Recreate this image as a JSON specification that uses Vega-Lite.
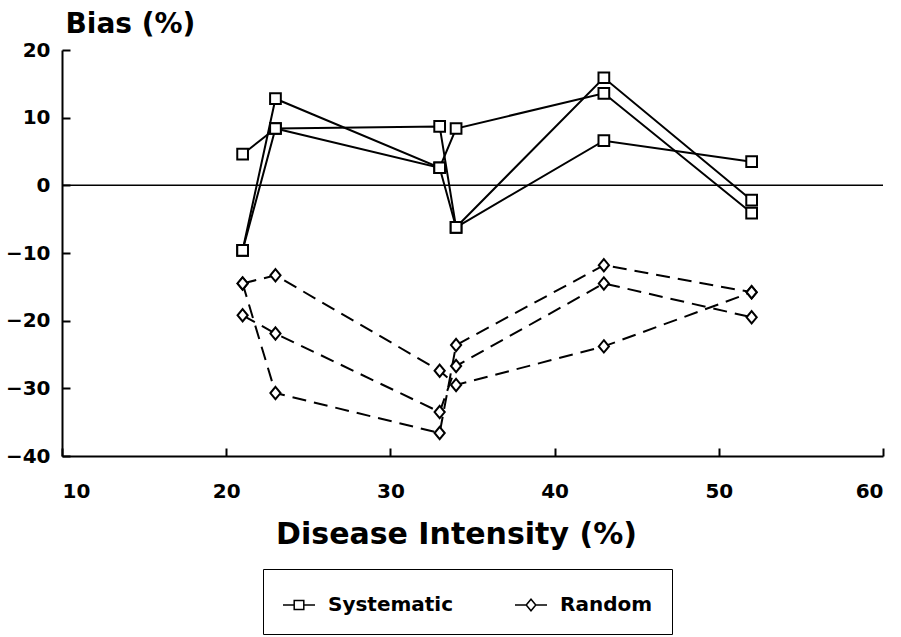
{
  "$schema": "https://vega.github.io/schema/vega-lite/v6.json",
  "width": 821,
  "height": 406,
  "autosize": {"type": "none"},
  "padding": {"left": 62, "top": 50, "right": 18, "bottom": 181},
  "background": "white",
  "config": {
    "view": {"stroke": null},
    "font": "DejaVu Sans",
    "axis": {
      "domainColor": "black",
      "domainWidth": 2,
      "tickColor": "black",
      "tickWidth": 2,
      "tickSize": -8,
      "grid": false,
      "labelFont": "DejaVu Sans",
      "labelFontWeight": "bold",
      "labelFontSize": 20,
      "labelColor": "black",
      "titleColor": "black",
      "titleFont": "DejaVu Sans"
    },
    "axisY": {
      "labelPadding": 20,
      "titleAngle": 0,
      "titleAlign": "left",
      "titleBaseline": "alphabetic",
      "titleX": 3,
      "titleY": -18,
      "titleFontSize": 28,
      "titleFontWeight": "bold"
    },
    "axisX": {
      "labelPadding": 33,
      "titleAlign": "center",
      "titleBaseline": "alphabetic",
      "titleX": 394,
      "titleY": 87,
      "titleFontSize": 30,
      "titleFontWeight": "bold"
    }
  },
  "datasets": {
    "bias": [
      {"series": "S1", "type": "Systematic", "x": 21, "y": 4.6},
      {"series": "S1", "type": "Systematic", "x": 23, "y": 8.4},
      {"series": "S1", "type": "Systematic", "x": 33, "y": 8.7},
      {"series": "S1", "type": "Systematic", "x": 34, "y": -6.2},
      {"series": "S1", "type": "Systematic", "x": 43, "y": 6.6},
      {"series": "S1", "type": "Systematic", "x": 52, "y": 3.5},
      {"series": "S2", "type": "Systematic", "x": 21, "y": -9.6},
      {"series": "S2", "type": "Systematic", "x": 23, "y": 12.8},
      {"series": "S2", "type": "Systematic", "x": 33, "y": 2.6},
      {"series": "S2", "type": "Systematic", "x": 34, "y": 8.4},
      {"series": "S2", "type": "Systematic", "x": 43, "y": 13.6},
      {"series": "S2", "type": "Systematic", "x": 52, "y": -4.1},
      {"series": "S3", "type": "Systematic", "x": 21, "y": -9.6},
      {"series": "S3", "type": "Systematic", "x": 23, "y": 8.4},
      {"series": "S3", "type": "Systematic", "x": 33, "y": 2.6},
      {"series": "S3", "type": "Systematic", "x": 34, "y": -6.2},
      {"series": "S3", "type": "Systematic", "x": 43, "y": 15.9},
      {"series": "S3", "type": "Systematic", "x": 52, "y": -2.2},
      {"series": "R1", "type": "Random", "x": 21, "y": -14.5},
      {"series": "R1", "type": "Random", "x": 23, "y": -13.3},
      {"series": "R1", "type": "Random", "x": 33, "y": -27.4},
      {"series": "R1", "type": "Random", "x": 34, "y": -29.5},
      {"series": "R1", "type": "Random", "x": 43, "y": -23.8},
      {"series": "R1", "type": "Random", "x": 52, "y": -15.8},
      {"series": "R2", "type": "Random", "x": 21, "y": -14.5},
      {"series": "R2", "type": "Random", "x": 23, "y": -30.7},
      {"series": "R2", "type": "Random", "x": 33, "y": -36.6},
      {"series": "R2", "type": "Random", "x": 34, "y": -23.6},
      {"series": "R2", "type": "Random", "x": 43, "y": -11.8},
      {"series": "R2", "type": "Random", "x": 52, "y": -15.8},
      {"series": "R3", "type": "Random", "x": 21, "y": -19.2},
      {"series": "R3", "type": "Random", "x": 23, "y": -21.9},
      {"series": "R3", "type": "Random", "x": 33, "y": -33.5},
      {"series": "R3", "type": "Random", "x": 34, "y": -26.7},
      {"series": "R3", "type": "Random", "x": 43, "y": -14.5},
      {"series": "R3", "type": "Random", "x": 52, "y": -19.5}
    ],
    "zero": [{"y": 0}]
  },
  "resolve": {"scale": {"shape": "independent"}, "legend": {"shape": "independent"}},
  "layer": [
    {
      "data": {"name": "zero"},
      "mark": {"type": "rule", "color": "black", "strokeWidth": 1.5},
      "encoding": {
        "y": {"field": "y", "type": "quantitative", "title": "Bias (%)",
              "scale": {"domain": [-40, 20], "nice": false},
              "axis": {"values": [-40, -30, -20, -10, 0, 10, 20]}}
      }
    },
    {
      "data": {"name": "bias"},
      "transform": [{"filter": "datum.type === 'Systematic'"}],
      "mark": {"type": "line", "color": "black", "strokeWidth": 2},
      "encoding": {
        "x": {"field": "x", "type": "quantitative", "title": "Disease Intensity (%)",
              "scale": {"domain": [10, 60], "nice": false},
              "axis": {"values": [10, 20, 30, 40, 50, 60]}},
        "y": {"field": "y", "type": "quantitative", "title": "Bias (%)",
              "scale": {"domain": [-40, 20], "nice": false},
              "axis": {"values": [-40, -30, -20, -10, 0, 10, 20]}},
        "detail": {"field": "series"}
      }
    },
    {
      "data": {"name": "bias"},
      "transform": [{"filter": "datum.type === 'Random'"}],
      "mark": {"type": "line", "color": "black", "strokeWidth": 2, "strokeDash": [14, 8]},
      "encoding": {
        "x": {"field": "x", "type": "quantitative", "title": "Disease Intensity (%)",
              "scale": {"domain": [10, 60], "nice": false},
              "axis": {"values": [10, 20, 30, 40, 50, 60]}},
        "y": {"field": "y", "type": "quantitative", "title": "Bias (%)",
              "scale": {"domain": [-40, 20], "nice": false},
              "axis": {"values": [-40, -30, -20, -10, 0, 10, 20]}},
        "detail": {"field": "series"}
      }
    },
    {
      "data": {"name": "bias"},
      "mark": {"type": "point", "filled": true, "fill": "white", "stroke": "black", "strokeWidth": 2, "size": 115, "opacity": 1},
      "encoding": {
        "x": {"field": "x", "type": "quantitative", "title": "Disease Intensity (%)",
              "scale": {"domain": [10, 60], "nice": false},
              "axis": {"values": [10, 20, 30, 40, 50, 60]}},
        "y": {"field": "y", "type": "quantitative", "title": "Bias (%)",
              "scale": {"domain": [-40, 20], "nice": false},
              "axis": {"values": [-40, -30, -20, -10, 0, 10, 20]}},
        "shape": {"field": "type", "type": "nominal",
                  "scale": {"domain": ["Systematic", "Random"], "range": ["square", "M0,-1.15L0.95,0L0,1.15L-0.95,0Z"]},
                  "legend": null}
      }
    },
    {
      "data": {"name": "bias"},
      "transform": [{"filter": "datum.x > 1000"}],
      "mark": {"type": "point", "filled": true, "fill": "white", "stroke": "black", "strokeWidth": 2, "opacity": 1},
      "encoding": {
        "x": {"field": "x", "type": "quantitative", "title": "Disease Intensity (%)",
              "scale": {"domain": [10, 60], "nice": false},
              "axis": {"values": [10, 20, 30, 40, 50, 60]}},
        "y": {"field": "y", "type": "quantitative", "title": "Bias (%)",
              "scale": {"domain": [-40, 20], "nice": false},
              "axis": {"values": [-40, -30, -20, -10, 0, 10, 20]}},
        "shape": {"field": "type", "type": "nominal",
                  "scale": {"domain": ["Systematic", "Random"],
                            "range": ["M-1,0H-0.3M0.3,0H1M-0.3,-0.28H0.3V0.28H-0.3Z", "M-1,0H-0.3M0.3,0H1M-0.3,0L0,-0.36L0.3,0L0,0.36Z"]},
                  "legend": {
                    "title": null,
                    "orient": "none",
                    "direction": "horizontal",
                    "legendX": 201,
                    "legendY": 519,
                    "padding": 19,
                    "columnPadding": 58,
                    "labelOffset": 12,
                    "symbolSize": 1024,
                    "labelFont": "DejaVu Sans",
                    "labelFontWeight": "bold",
                    "labelFontSize": 20,
                    "labelColor": "black",
                    "strokeColor": "black",
                    "encode": {
                      "legend": {"update": {"stroke": {"value": "black"}, "strokeWidth": {"value": 2}}},
                      "symbols": {"update": {
                        "size": {"value": 1024},
                        "fill": {"value": "white"},
                        "stroke": {"value": "black"},
                        "strokeWidth": {"value": 2},
                        "opacity": {"value": 1},
                        "strokeOpacity": {"value": 1},
                        "fillOpacity": {"value": 1}
                      }}
                    }
                  }}
      }
    }
  ]
}
